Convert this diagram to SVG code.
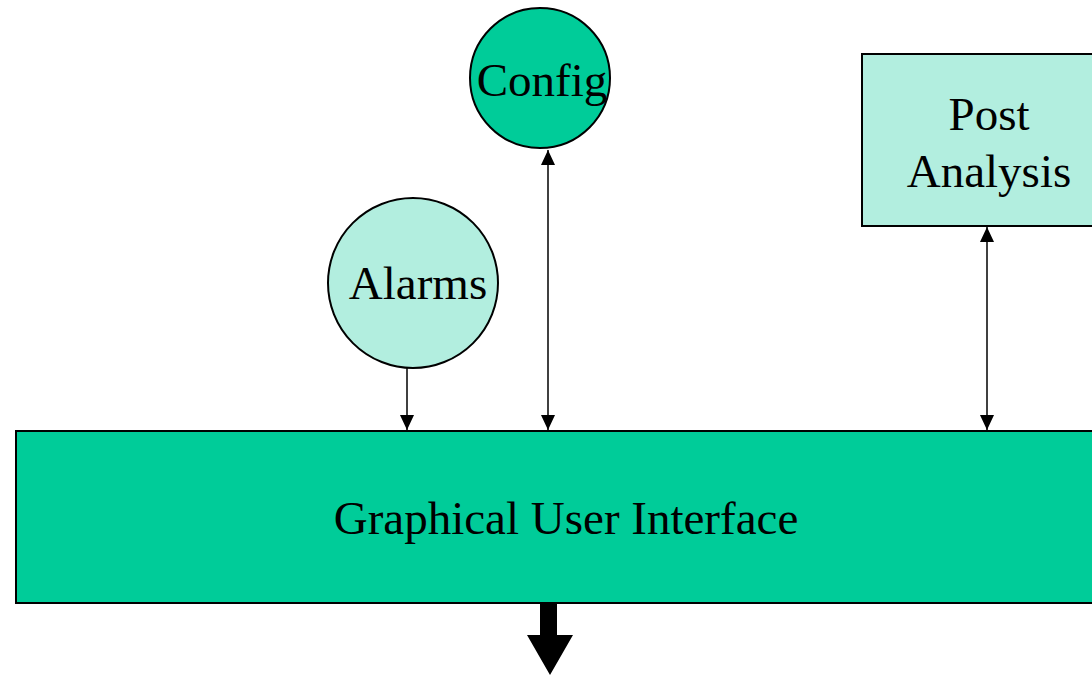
<svg xmlns="http://www.w3.org/2000/svg" width="1092" height="675" viewBox="0 0 1092 675">
  <style>
    .lbl { font-family: "Liberation Serif", "Times New Roman", serif; font-size: 47px; fill: #000; text-anchor: middle; }
    .dark { fill: #00CC99; stroke: #000; stroke-width: 2; }
    .light { fill: #B2EEDF; stroke: #000; stroke-width: 2; }
    .conn { stroke: #000; stroke-width: 1.5; fill: none; }
  </style>
  <defs>
    <marker id="tip" viewBox="0 0 15 14" refX="15" refY="7" markerWidth="15" markerHeight="14" markerUnits="userSpaceOnUse" orient="auto-start-reverse">
      <path d="M0,0 L15,7 L0,14 Z" fill="#000"/>
    </marker>
  </defs>
  <rect width="1092" height="675" fill="#fff"/>

  <g id="gui">
    <rect class="dark" x="16" y="431" width="1090" height="172"/>
    <text class="lbl" x="566" y="534">Graphical User Interface</text>
  </g>

  <g id="config">
    <circle class="dark" cx="540" cy="78" r="70"/>
    <text class="lbl" x="542" y="96">Config</text>
  </g>

  <g id="alarms">
    <circle class="light" cx="413" cy="283" r="85"/>
    <text class="lbl" x="418" y="299">Alarms</text>
  </g>

  <g id="post-analysis">
    <rect class="light" x="862" y="54" width="240" height="172"/>
    <text class="lbl" x="989" y="130">Post</text>
    <text class="lbl" x="989" y="187">Analysis</text>
  </g>

  <g id="connectors">
    <line class="conn" x1="407" y1="368" x2="407" y2="430" marker-end="url(#tip)"/>
    <line class="conn" x1="548" y1="150" x2="548" y2="430" marker-start="url(#tip)" marker-end="url(#tip)"/>
    <line class="conn" x1="987" y1="227" x2="987" y2="430" marker-start="url(#tip)" marker-end="url(#tip)"/>
    <path d="M540,604 L557,604 L557,635 L573,635 L550,675 L527,635 L540,635 Z" fill="#000"/>
  </g>
</svg>
